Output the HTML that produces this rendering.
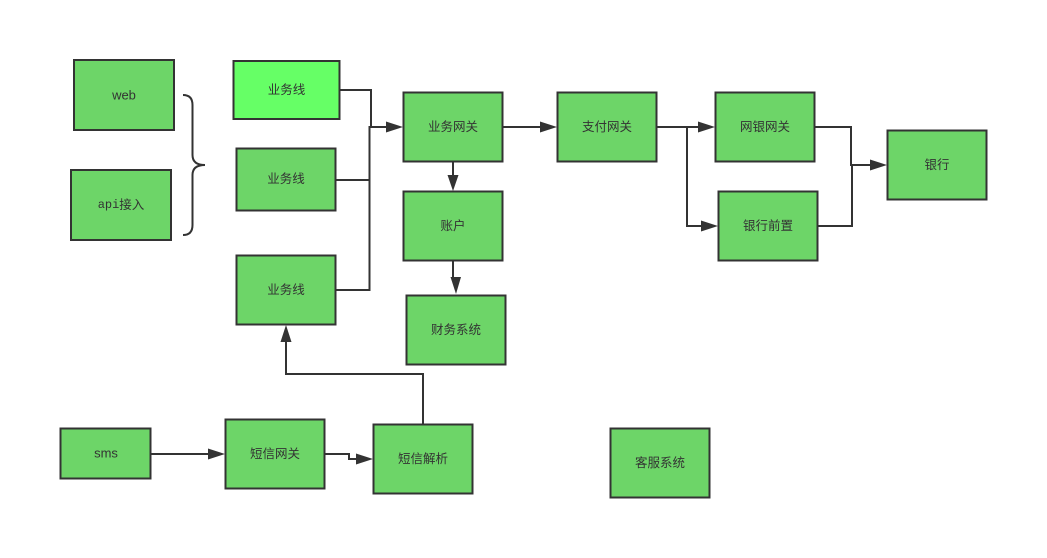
<!DOCTYPE html>
<html>
<head>
<meta charset="utf-8">
<style>
html,body{margin:0;padding:0;background:#fff;}
svg{display:block;}
text{font-family:"Liberation Sans","Noto Sans CJK SC",sans-serif;font-size:12.5px;fill:#333;text-anchor:middle;dominant-baseline:central;}
.b{fill:#6dd568;stroke:#333;stroke-width:2;}
.l{fill:none;stroke:#333;stroke-width:2;}
.a{fill:#333;stroke:none;}
</style>
</head>
<body>
<svg width="1047" height="558" viewBox="0 0 1047 558" xmlns="http://www.w3.org/2000/svg">
<!-- connectors -->
<path class="l" d="M340 90 H371 V127"/>
<path class="l" d="M336 180 H369"/>
<path class="l" d="M336 290 H369.5 V127 H388"/>
<polygon class="a" points="386,121.5 403,127 386,132.5"/>

<path class="l" d="M503 127 H542"/>
<polygon class="a" points="540,121.5 557,127 540,132.5"/>

<path class="l" d="M453 162 V177"/>
<polygon class="a" points="447.5,175 458.5,175 453,191"/>

<path class="l" d="M453 261 V278"/>
<polygon class="a" points="450.5,277 461,277 456,294"/>

<path class="l" d="M657 127 H700"/>
<polygon class="a" points="698,121.5 715,127 698,132.5"/>
<path class="l" d="M687 127 V226 H703"/>
<polygon class="a" points="701,220.5 718,226 701,231.5"/>

<path class="l" d="M815 127 H851 V165 H872"/>
<path class="l" d="M818 226 H852 V165"/>
<polygon class="a" points="870,159.5 887,165 870,170.5"/>

<path class="l" d="M151 454 H210"/>
<polygon class="a" points="208,448.5 225,454 208,459.5"/>

<path class="l" d="M325 454 H349 V459 H358"/>
<polygon class="a" points="356,453.5 373,459 356,464.5"/>

<path class="l" d="M423 424 V374 H286 V340"/>
<polygon class="a" points="280.5,342 286,325 291.5,342"/>

<!-- brace -->
<path class="l" d="M183 95 Q192.5 95 192.5 105 V155 Q192.5 165 205 165 Q192.5 165 192.5 175 V225 Q192.5 235 183 235"/>

<!-- boxes -->
<rect class="b" x="74" y="60" width="100" height="70"/>
<text x="124" y="95" style="font-size:13px">web</text>

<rect class="b" x="71" y="170" width="100" height="70"/>
<text x="121" y="205"><tspan style="font-family:'Liberation Mono',monospace;font-size:12px">api</tspan>接入</text>

<rect class="b" x="233.5" y="61" width="106" height="58" style="fill:#66ff66"/>
<text x="286.5" y="90">业务线</text>

<rect class="b" x="236.5" y="148.5" width="99" height="62"/>
<text x="286" y="179">业务线</text>

<rect class="b" x="236.5" y="255.5" width="99" height="69"/>
<text x="286" y="290">业务线</text>

<rect class="b" x="403.5" y="92.5" width="99" height="69"/>
<text x="453" y="127">业务网关</text>

<rect class="b" x="557.5" y="92.5" width="99" height="69"/>
<text x="607" y="127">支付网关</text>

<rect class="b" x="403.5" y="191.5" width="99" height="69"/>
<text x="453" y="226">账户</text>

<rect class="b" x="406.5" y="295.5" width="99" height="69"/>
<text x="456" y="330">财务系统</text>

<rect class="b" x="715.5" y="92.5" width="99" height="69"/>
<text x="765" y="127">网银网关</text>

<rect class="b" x="718.5" y="191.5" width="99" height="69"/>
<text x="768" y="226">银行前置</text>

<rect class="b" x="887.5" y="130.5" width="99" height="69"/>
<text x="937" y="165">银行</text>

<rect class="b" x="60.5" y="428.5" width="90" height="50"/>
<text x="106" y="453" style="font-size:13px">sms</text>

<rect class="b" x="225.5" y="419.5" width="99" height="69"/>
<text x="275" y="454">短信网关</text>

<rect class="b" x="373.5" y="424.5" width="99" height="69"/>
<text x="423" y="459">短信解析</text>

<rect class="b" x="610.5" y="428.5" width="99" height="69"/>
<text x="660" y="463">客服系统</text>
</svg>
</body>
</html>
